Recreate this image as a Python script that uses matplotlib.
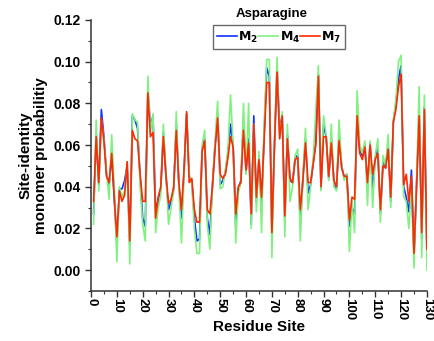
import numpy as np
import matplotlib
matplotlib.use("Agg")
import matplotlib.pyplot as plt
from matplotlib.ticker import MultipleLocator, FormatStrFormatter

plt.rcParams['font.family'] = ['Liberation Sans', 'DejaVu Sans']
plt.rcParams['font.weight'] = 'bold'
plt.rcParams['mathtext.default'] = 'bf'

# residue positions 1..130
sites = np.arange(1, 131)

# M7 (red)
m7 = [0.033, 0.064, 0.042, 0.073, 0.062, 0.045, 0.042, 0.056, 0.035, 0.016,
      0.038, 0.033, 0.036, 0.052, 0.014, 0.067, 0.063, 0.062, 0.046, 0.033,
      0.033, 0.085, 0.064, 0.066, 0.025, 0.035, 0.040, 0.064, 0.046, 0.032,
      0.034, 0.040, 0.067, 0.042, 0.029, 0.048, 0.076, 0.042, 0.044, 0.029,
      0.023, 0.023, 0.057, 0.062, 0.029, 0.027, 0.040, 0.058, 0.073, 0.046,
      0.044, 0.046, 0.054, 0.064, 0.059, 0.027, 0.040, 0.042, 0.067, 0.048,
      0.061, 0.027, 0.070, 0.035, 0.053, 0.035, 0.062, 0.090, 0.090, 0.018,
      0.060, 0.095, 0.063, 0.074, 0.026, 0.063, 0.044, 0.042, 0.053, 0.054,
      0.029, 0.043, 0.061, 0.042, 0.042, 0.051, 0.060, 0.093, 0.040, 0.064,
      0.064, 0.045, 0.061, 0.043, 0.040, 0.062, 0.049, 0.045, 0.045, 0.024,
      0.035, 0.034, 0.074, 0.056, 0.053, 0.059, 0.042, 0.060, 0.046, 0.053,
      0.056, 0.029, 0.050, 0.049, 0.058, 0.035, 0.071, 0.077, 0.088, 0.094,
      0.041, 0.046, 0.033, 0.045, 0.008, 0.040, 0.074, 0.018, 0.077, 0.010]

# M2 (blue)
m2 = [0.027, 0.065, 0.041, 0.077, 0.064, 0.046, 0.041, 0.055, 0.034, 0.013,
      0.039, 0.039, 0.043, 0.050, 0.012, 0.074, 0.072, 0.068, 0.045, 0.025,
      0.021, 0.086, 0.069, 0.074, 0.028, 0.034, 0.039, 0.066, 0.045, 0.029,
      0.033, 0.039, 0.070, 0.041, 0.025, 0.047, 0.075, 0.045, 0.043, 0.025,
      0.014, 0.015, 0.058, 0.063, 0.025, 0.017, 0.041, 0.060, 0.075, 0.041,
      0.043, 0.047, 0.056, 0.070, 0.060, 0.022, 0.039, 0.043, 0.072, 0.047,
      0.063, 0.022, 0.074, 0.033, 0.054, 0.030, 0.065, 0.097, 0.093, 0.017,
      0.060, 0.097, 0.068, 0.074, 0.024, 0.065, 0.043, 0.042, 0.054, 0.055,
      0.022, 0.044, 0.063, 0.037, 0.041, 0.052, 0.062, 0.094, 0.039, 0.070,
      0.064, 0.044, 0.063, 0.042, 0.039, 0.064, 0.050, 0.044, 0.046, 0.021,
      0.030, 0.027, 0.076, 0.057, 0.055, 0.060, 0.040, 0.061, 0.038, 0.054,
      0.058, 0.027, 0.052, 0.049, 0.060, 0.033, 0.071, 0.080, 0.092, 0.098,
      0.040, 0.035, 0.028, 0.048, 0.006, 0.042, 0.076, 0.015, 0.078, 0.008]

# M4 (green)
m4 = [0.022, 0.072, 0.038, 0.072, 0.063, 0.047, 0.034, 0.065, 0.040, 0.004,
      0.040, 0.035, 0.038, 0.052, 0.003, 0.075, 0.072, 0.071, 0.040, 0.022,
      0.014, 0.093, 0.066, 0.075, 0.018, 0.030, 0.036, 0.070, 0.047, 0.022,
      0.030, 0.038, 0.076, 0.040, 0.013, 0.045, 0.075, 0.046, 0.041, 0.020,
      0.008, 0.008, 0.060, 0.067, 0.022, 0.010, 0.040, 0.062, 0.081, 0.039,
      0.040, 0.048, 0.058, 0.084, 0.060, 0.013, 0.037, 0.042, 0.080, 0.046,
      0.080, 0.020, 0.070, 0.028, 0.057, 0.018, 0.070, 0.101, 0.101, 0.006,
      0.060, 0.102, 0.063, 0.076, 0.016, 0.070, 0.033, 0.040, 0.055, 0.058,
      0.014, 0.045, 0.068, 0.029, 0.040, 0.054, 0.077, 0.098, 0.038, 0.074,
      0.065, 0.043, 0.070, 0.040, 0.038, 0.072, 0.050, 0.043, 0.046, 0.009,
      0.033, 0.018, 0.086, 0.060, 0.056, 0.062, 0.031, 0.062, 0.030, 0.055,
      0.063, 0.023, 0.055, 0.050, 0.065, 0.030, 0.072, 0.082, 0.100, 0.103,
      0.035, 0.033, 0.020, 0.040, 0.001, 0.045, 0.088, 0.006, 0.084, 0.000]

fig = plt.figure(figsize=(4.34, 3.41), dpi=100)
ax = fig.add_axes([0.2097, 0.1466, 0.774, 0.795])

ax.plot(sites, m2, color='#1030ff', lw=1.2, label=r'$\mathbf{M_2}$')
ax.plot(sites, m4, color='#80f080', lw=1.2, label=r'$\mathbf{M_4}$')
ax.plot(sites, m7, color='#ff2a00', lw=1.2, label=r'$\mathbf{M_7}$')

ax.set_xlim(0, 130)
ax.set_ylim(-0.01, 0.12)
ax.xaxis.set_major_locator(MultipleLocator(10))
ax.xaxis.set_minor_locator(MultipleLocator(5))
ax.yaxis.set_major_locator(MultipleLocator(0.02))
ax.yaxis.set_minor_locator(MultipleLocator(0.01))
ax.yaxis.set_major_formatter(FormatStrFormatter('%.2f'))

for s in ['top', 'right']:
    ax.spines[s].set_visible(False)
for s in ['left', 'bottom']:
    ax.spines[s].set_linewidth(1.1)
    ax.spines[s].set_color('#333333')

ax.tick_params(which='major', direction='out', length=4, width=1.0, labelsize=10, color='#333333')
ax.tick_params(axis='x', which='major', labelsize=9.5, pad=1)
ax.tick_params(which='minor', direction='out', length=2.5, width=0.8, color='#333333')
for lab in ax.get_xticklabels():
    lab.set_rotation(-90)
    lab.set_fontweight('bold')
for lab in ax.get_yticklabels():
    lab.set_fontweight('bold')

ax.set_xlabel('Residue Site', fontsize=11, fontweight='bold', labelpad=0)
ax.set_ylabel('Site-identity\nmonomer probabilitiy', fontsize=11, fontweight='bold',
              labelpad=4, linespacing=1.1)

leg = ax.legend(loc='center', bbox_to_anchor=(0.56, 0.937), ncol=3, frameon=True,
                fancybox=False, edgecolor='#444444', fontsize=9, handlelength=1.6,
                handletextpad=0.1, columnspacing=0.0, borderpad=0.35, borderaxespad=0)
leg.get_frame().set_linewidth(1.0)
fig.text(0.627, 0.958, 'Asparagine', ha='center', va='center', fontsize=9.5, fontweight='bold')

fig.savefig('out.png', dpi=100)
